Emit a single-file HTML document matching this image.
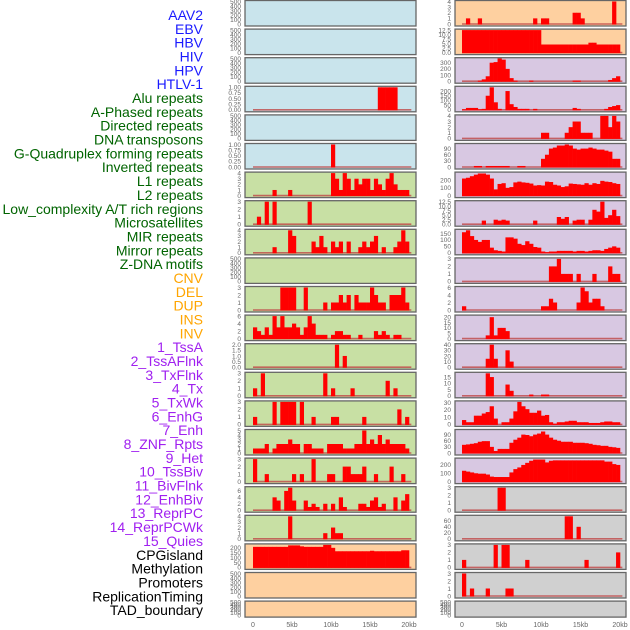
<!DOCTYPE html>
<html><head><meta charset="utf-8">
<style>
html,body{margin:0;padding:0;background:#fff;}
svg{display:block;}
</style></head>
<body>
<svg id="chart" width="630" height="630" viewBox="0 0 630 630" xmlns="http://www.w3.org/2000/svg">
<g id="labels" font-family="Liberation Sans, sans-serif" font-size="14" text-anchor="end"></g>
<g id="panels"></g>
<g id="xaxes" font-family="Liberation Sans, sans-serif" font-size="7" fill="#666" text-anchor="middle"></g>
</svg>
<script>
// ---- data ----
const labelNames = ["AAV2","EBV","HBV","HIV","HPV","HTLV-1","Alu repeats","A-Phased repeats","Directed repeats","DNA transposons","G-Quadruplex forming repeats","Inverted repeats","L1 repeats","L2 repeats","Low_complexity A/T rich regions","Microsatellites","MIR repeats","Mirror repeats","Z-DNA motifs","CNV","DEL","DUP","INS","INV","1_TssA","2_TssAFlnk","3_TxFlnk","4_Tx","5_TxWk","6_EnhG","7_Enh","8_ZNF_Rpts","9_Het","10_TssBiv","11_BivFlnk","12_EnhBiv","13_ReprPC","14_ReprPCWk","15_Quies","CPGisland","Methylation","Promoters","ReplicationTiming","TAD_boundary"];
const labelGroups = [0,0,0,0,0,0,1,1,1,1,1,1,1,1,1,1,1,1,1,2,2,2,2,2,3,3,3,3,3,3,3,3,3,3,3,3,3,3,3,4,4,4,4,4];
const xTickLabels = ["0","5kb","10kb","15kb","20kb"];
const xTickValues = [0,5,10,15,20];
const binSizeKb = 0.5;

const ticks500 = [0,100,200,300,400,500];
const L0 = [], L1 = [], L2 = [], L4 = [], L9 = [], L20 = [], L21 = [], R21 = [];
const L3 = [0,0,0,0,0,0,0,0,0,0, 0,0,0,0,0,0,0,0,0,0, 0,0,0,0,0,0,0,0,0,0, 0,0,1,1,1,1,1,0,0,0];
const L5 = [0,0,0,0,0,0,0,0,0,0, 0,0,0,0,0,0,0,0,0,0, 1,0,0,0,0,0,0,0,0,0, 0,0,0,0,0,0,0,0,0,0];
const L6 = [0,0,0,0,0,1,0,0,0,1, 0,0,0,0,0,0,0,0,0,0, 4,3,1,4,3,1,3,2,3,3, 1,3,2,1,3,4,2,1,1,1];
const L7 = [0,1,0,3,0,3,0,0,0,0, 0,0,0,0,3,0,0,0,0,0, 0,0,0,0,0,0,0,0,0,0, 0,0,0,0,0,0,0,0,0,0];
const L8 = [0,0,0,0,0,1,0,0,0,4, 3,0,0,0,0,2,1,3,1,0, 2,1,2,0,2,0,0,1,2,1, 2,3,0,1,0,0,1,2,4,2];
const L10 = [0,0,0,0,0,0,0,3,3,3, 3,0,0,3,0,0,0,0,1,0, 1,1,2,1,2,0,2,1,1,1, 3,2,1,1,0,2,2,2,3,1];
const L11 = [3,2,1,3,1,6,3,6,3,3, 4,3,1,3,6,4,1,1,1,0, 1,2,2,1,1,0,0,1,0,0, 0,2,1,2,1,0,1,1,0,0];
const L12 = [0,0,0,0,0,0,0,0,0,0, 0,0,0,0,0,0,0,0,0,0, 0,2,0,1,0,0,0,0,0,0, 0,0,0,0,0,0,0,0,0,0];
const L13 = [1,0,3,0,0,0,0,0,0,0, 0,0,0,0,0,0,0,0,3,0, 1,0,0,0,0,1,0,0,0,0, 0,0,0,0,2,0,1,0,0,0];
const L14 = [1,0,0,0,0,3,0,3,3,3, 3,0,3,0,0,1,0,0,0,0, 1,1,0,0,0,0,0,0,1,0, 0,0,0,0,0,0,0,2,0,1];
const L15 = [1,1,1,2,0,1,2,2,2,3, 2,2,0,2,2,1,1,1,0,2, 2,2,2,1,1,1,2,2,5,2, 3,2,4,2,3,2,2,2,2,1];
const L16 = [3,0,0,1,0,0,0,0,0,0, 1,0,1,0,0,3,0,0,0,1, 1,0,0,2,2,1,1,1,2,0, 0,1,0,0,0,2,0,0,1,0];
const L17 = [0,0,0,0,0,4,3,0,6,7, 3,0,0,3,1,2,1,0,2,0, 2,0,4,1,0,0,0,2,2,1, 3,4,1,2,0,0,4,0,3,5];
const L18 = [0,0,0,0,0,0,0,0,0,4, 0,0,0,0,0,0,0,0,1,0, 2,1,1,0,0,0,0,0,0,0, 0,0,0,0,0,0,0,0,0,0];
const L19 = [210,210,210,210,210,210,210,210,210,225, 225,225,215,210,210,210,210,210,230,230, 200,165,165,165,165,165,165,165,165,165, 170,165,165,165,165,165,165,165,175,175];
const R0 = [0,1,0,0,1,0,0,0,0,0, 0,0,0,0,0,0,0,0,1,0, 1,1,0,0,0,0,0,0,2,2, 1,0,0,0,0,0,0,0,4,0];
const R1 = [12.5,12.5,12.5,12.5,12.5,12.5,12.5,12.5,12.5,12.5, 12.5,12.5,12.5,12.5,12.5,12.5,12.5,12.5,12.5,12.5, 4.5,4.5,4.5,4.5,4.5,4.5,4.5,4.5,4.5,4.5, 4.5,4.5,5.5,5.5,4.5,4.5,4.5,4.5,4.5,4.5];
const R2 = [0,0,0,0,10,30,80,300,310,370, 350,200,50,10,0,0,0,10,0,0, 0,0,0,0,0,0,0,0,10,10, 0,0,0,0,0,0,0,20,50,80];
const R3 = [5,20,20,20,5,10,150,240,80,10, 0,200,60,30,10,10,10,0,10,0, 0,0,0,0,0,0,0,0,20,10, 0,0,0,0,0,0,10,30,40,50];
const R4 = [0,0,0,0,0,0,0,0,0,0, 0,0,0,0,0,0,0,0,0,0, 1,1,0,0,0,0,1,2,3,3, 1,1,1,0,0,4,4,2,4,3];
const R5 = [0,0,0,5,5,0,5,5,5,5, 5,5,0,0,5,5,0,0,0,0, 40,60,90,95,105,105,110,105,90,85, 90,90,95,90,85,85,80,75,40,40];
const R6 = [220,230,250,270,285,285,270,220,80,150, 160,100,110,170,180,170,165,155,130,135, 130,180,175,140,130,110,120,155,150,145, 140,160,140,160,150,190,180,175,160,150];
const R7 = [0,0,0,0,0,2,0,0,2.5,2, 2.5,2,0,0,0,0,0,0,2,0, 0,0,0,0,4,3,4,0,2,2.5, 2.5,0,2.5,8,7,12.5,3.5,5,8,4.5];
const R8 = [160,175,130,100,85,100,100,40,20,15, 10,120,120,110,70,60,90,70,45,40, 10,5,10,10,15,15,15,15,10,15, 15,10,15,20,20,15,30,40,50,40];
const R9 = [0,0,0,0,0,0,0,0,0,0, 0,0,0,0,0,0,0,0,0,0, 0,0,2,2,3,1,1,1,0,1, 0,0,0,1,0,0,0,2,1,1];
const R10 = [1,0,0,0,0,0,0,0,0,0, 0,0,0,0,0,0,0,0,0,0, 1,1,3,2,0,0,0,0,0,2, 6,5,2,3,3,1,0,0,0,0];
const R11 = [0,0,0,0,0,0,3,20,3,10, 10,7,0,0,0,0,0,0,0,0, 0,0,0,0,0,0,0,0,0,0, 0,0,0,0,0,0,0,0,0,0];
const R12 = [0,0,0,0,0,0,15,40,15,0, 0,30,10,0,0,0,0,0,0,0, 0,0,0,0,0,0,0,0,0,0, 0,0,0,0,0,0,0,0,0,0];
const R13 = [0,0,0,0,0,0,18,15,0,0, 0,9,4,0,0,0,0,1,0,0, 1,1,0,0,0,0,0,0,0,0, 0,0,0,0,0,0,0,0,0,0];
const R14 = [6,3,3,12,12,15,17,25,8,0, 3,3,8,18,31,25,21,16,16,19, 12,13,3,1,3,3,4,5,5,3, 3,3,2,2,2,3,4,4,3,3];
const R15 = [40,42,45,48,55,58,58,30,10,20, 20,20,50,65,75,90,88,82,90,95, 105,90,75,65,60,55,55,55,50,50, 50,48,45,40,38,35,35,30,28,25];
const R16 = [130,120,110,100,95,95,85,60,55,55, 55,55,110,150,170,200,225,250,265,265, 265,230,250,255,255,255,255,255,255,255, 255,255,255,255,255,255,240,240,210,200];
const R17 = [0,0,0,0,0,0,0,0,0,3, 3,0,0,0,0,0,0,0,0,0, 0,0,0,0,0,0,0,0,0,0, 0,0,0,0,0,0,0,0,0,0];
const R18 = [0,0,0,0,0,0,0,0,0,0, 0,0,0,0,0,0,0,0,0,0, 0,0,0,0,0,0,75,75,0,40, 0,0,0,0,0,0,0,0,0,0];
const R19 = [1,0,0,0,0,0,0,0,3,0, 3,3,0,0,0,0,1,0,0,0, 0,0,0,0,0,0,0,0,0,0, 0,1,0,0,0,0,0,0,0,2];
const R20 = [3,0,1,0,0,0,1,0,0,0, 0,1,1,0,0,0,0,0,0,0, 0,0,0,0,0,0,0,0,0,0, 0,0,0,0,0,0,0,0,0,0];

// ---- panel config (scale & style) ----
const BLUE="#c9e4ec", GREEN="#c8e0a4", ORANGE="#fed0a0", PURPLE="#d8c8e2", GRAY="#d0d0d0";
const leftPanels = [
 [L0,500,ticks500,BLUE],[L1,500,ticks500,BLUE],[L2,500,ticks500,BLUE],
 [L3,1,["0.00","0.25","0.50","0.75","1.00"],BLUE],[L4,500,ticks500,BLUE],
 [L5,1,["0.00","0.25","0.50","0.75","1.00"],BLUE],
 [L6,4,[0,1,2,3,4],GREEN],[L7,3,[0,1,2,3],GREEN],[L8,4,[0,1,2,3,4],GREEN],[L9,500,ticks500,GREEN],
 [L10,3,[0,1,2,3],GREEN],[L11,6,[0,2,4,6],GREEN],[L12,2,["0.0","0.5","1.0","1.5","2.0"],GREEN],
 [L13,3,[0,1,2,3],GREEN],[L14,3,[0,1,2,3],GREEN],[L15,5,[0,1,2,3,4,5],GREEN],[L16,3,[0,1,2,3],GREEN],
 [L17,7,[0,2,4,6],GREEN],[L18,4,[0,1,2,3,4],GREEN],
 [L19,230,[0,50,100,150,200],ORANGE],[L20,500,ticks500,ORANGE],[L21,500,ticks500,ORANGE]
];
const rightPanels = [
 [R0,4,[0,1,2,3,4],ORANGE],[R1,12.5,["0.0","2.5","5.0","7.5","10.0","12.5"],ORANGE],
 [R2,365,[0,100,200,300],PURPLE],[R3,240,[0,50,100,150,200],PURPLE],[R4,4,[0,1,2,3,4],PURPLE],
 [R5,110,[0,30,60,90],PURPLE],[R6,290,[0,100,200],PURPLE],[R7,12.5,["0.0","2.5","5.0","7.5","10.0","12.5"],PURPLE],
 [R8,175,[0,50,100,150],PURPLE],[R9,3,[0,1,2,3],PURPLE],[R10,6,[0,2,4,6],PURPLE],
 [R11,21,[0,5,10,15,20],PURPLE],[R12,40,[0,10,20,30,40],PURPLE],[R13,18,[0,5,10,15],PURPLE],
 [R14,31,[0,10,20,30],PURPLE],[R15,110,[0,30,60,90],PURPLE],[R16,270,[0,100,200],PURPLE],
 [R17,3,[0,1,2,3],GRAY],[R18,75,[0,20,40,60],GRAY],[R19,3,[0,1,2,3],GRAY],[R20,3,[0,1,2,3],GRAY],
 [R21,500,ticks500,GRAY]
];

const NS="http://www.w3.org/2000/svg";
function mk(tag, attrs, parent){const e=document.createElementNS(NS,tag);for(const k in attrs)e.setAttribute(k,attrs[k]);parent.appendChild(e);return e;}

// labels
const groupColors=["#1a1aff","#006400","#ffa500","#a020f0","#000000"];
const lg=document.getElementById("labels");
labelNames.forEach((name,k)=>{
  const t=mk("text",{x:203,y:15+k*13.84+5,fill:groupColors[labelGroups[k]]},lg);
  
  
  t.textContent=name;
});

const cols=[{panels:leftPanels,x0:245,x1:416,zero:253,perKb:7.8,side:'left'},
            {panels:rightPanels,x0:455,x1:626,zero:462,perKb:7.9,side:'right'}];
const pg=document.getElementById("panels");
const xg=document.getElementById("xaxes");
cols.forEach(col=>{
  const xs=kb=>col.zero+kb*col.perKb;
  col.panels.forEach((p,r)=>{
    const [vals,ymax,ticks,bg]=p;
    const top=r*28.6+0.5, h=(r===21)?16:25.5;
    const g=mk("g",{},pg);
    
    
    mk("rect",{x:col.x0,y:top,width:col.x1-col.x0,height:h,fill:bg,stroke:"#666",'stroke-width':1.3},g);
    const base=top+h-2, span=h-3;
    const ys=v=>base-v/ymax*span;
    // ticks
    const tg=mk("g",{'font-family':"Liberation Sans, sans-serif",'font-size':6.5,fill:"#666",'text-anchor':"end"},g);
    
    
    ticks.forEach(tv=>{
      const t=mk("text",{x:col.x0-4,y:ys(parseFloat(tv))+2.3},tg);
      t.textContent=String(tv);
    });
    if(vals.length){
      mk("line",{x1:xs(0),x2:xs(20.3),y1:base,y2:base,stroke:"#c04848",'stroke-width':1.6,opacity:0.8},g);
      vals.forEach((v,i)=>{
        if(!v) return;
        const b=mk("rect",{x:xs(i*binSizeKb),y:ys(v),width:binSizeKb*col.perKb+0.3,height:base-ys(v)+0.5,fill:"#ff0000"},g);
        
        
      });
    }
  });
  xTickValues.forEach((kb,i)=>{
    const t=mk("text",{x:xs(kb),y:627},xg);
    
    
    t.textContent=xTickLabels[i];
  });
});
</script>
</body></html>
